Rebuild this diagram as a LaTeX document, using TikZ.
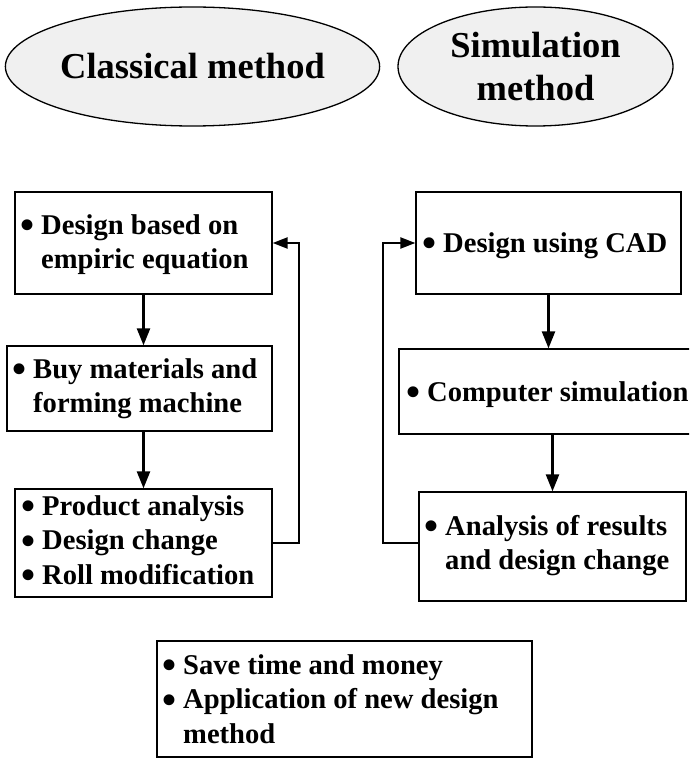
\documentclass[tikz,border=0pt]{standalone}
\usepackage{fontspec}
\setmainfont{Liberation Serif}
\usetikzlibrary{shapes.geometric,arrows.meta}
\newcommand\bul{\makebox[21pt][l]{\raisebox{-4.5pt}[0pt][0pt]{\fontsize{40}{40}\selectfont\textbullet}}}
\newcommand\ind{\hspace*{21pt}}
\newcommand\lines[1]{\fontsize{28.6}{34.5}\selectfont\begin{tabular}[t]{@{}l@{}}#1\end{tabular}}
\begin{document}
\begin{tikzpicture}[x=1pt,y=-1pt,
  box/.style={draw, line width=1.3pt, rectangle, inner sep=0pt},
  oval/.style={draw, line width=1.3pt, ellipse, fill=gray!12, inner sep=0pt, align=center,
    font=\bfseries\fontsize{36.5}{43}\selectfont},
  txt/.style={anchor=base west, inner sep=0pt, font=\bfseries},
  arr/.style={line width=2.4pt, -{Triangle[length=17pt,width=13pt]}},
  fb/.style={line width=2.2pt, -{Triangle[length=15pt,width=11pt]}}]
\useasboundingbox (0,0) rectangle (689,759);
\clip (0,0) rectangle (689,759);
\fill[white] (0,0) rectangle (689,759);
% ellipses
\node[oval, minimum width=278pt, minimum height=119pt] (e1) at (192.5,66.5) {Classical method};
\node[oval, minimum width=275pt, minimum height=119pt] (e2) at (535.5,66.5) {Simulation\\method};
% left column boxes
\node[box, minimum width=257pt, minimum height=102pt] (b1) at (143.5,243) {};
\node[box, minimum width=265pt, minimum height=85pt] (b2) at (139.5,388.5) {};
\node[box, minimum width=257pt, minimum height=108pt] (b3) at (143.5,543) {};
% right column boxes
\node[box, minimum width=265pt, minimum height=102pt] (bA) at (548.5,243) {};
\node[box, minimum width=308pt, minimum height=85pt] (bB) at (553,391.5) {};
\node[box, minimum width=267pt, minimum height=109pt] (bC) at (552.5,546.5) {};
% bottom box
\node[box, minimum width=375pt, minimum height=116pt] (bD) at (344.5,699) {};
% texts
\node[txt] (t1) at (20,234) {\lines{\bul Design based on\\ \ind empiric equation}};
\node[txt] (t2) at (12,378) {\lines{\bul Buy materials and\\ \ind forming machine}};
\node[txt] (t3) at (21,515) {\lines{\bul Product analysis\\ \bul Design change\\ \bul Roll modification}};
\node[txt] (tA) at (422,252) {\lines{\bul Design using CAD}};
\node[txt] (tB) at (406,401) {\lines{\bul Computer simulation}};
\node[txt] (tC) at (424,535) {\lines{\bul Analysis of results\\ \ind and design change}};
\node[txt] (tD) at (162,674) {\lines{\bul Save time and money\\ \bul Application of new design\\ \ind method}};
% arrows
\draw[arr] (b1.south) -- (b1.south |- b2.north);
\draw[arr] (b3.north |- b2.south) -- (b3.north);
\draw[arr] (bA.south) -- (bA.south |- bB.north);
\draw[arr] (bC.north |- bB.south) -- (bC.north);
% feedback loops
\draw[fb] (b3.east) -- ++(26,0) |- (b1.east);
\coordinate (fbR) at (383,543);
\draw[fb] (bC.west |- fbR) -- (fbR) |- (bA.west);
\end{tikzpicture}
\end{document}
